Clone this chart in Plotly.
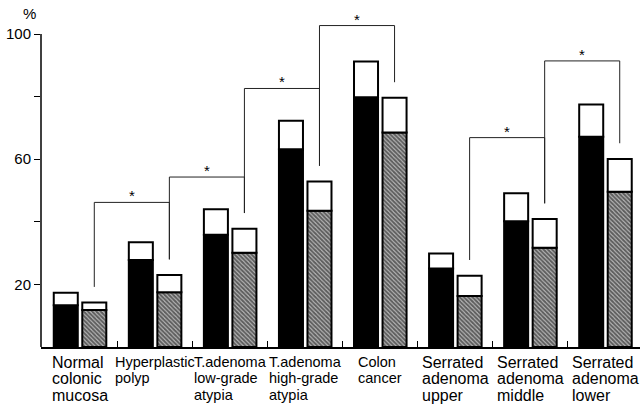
import plotly.graph_objects as go

# ---- data ----
label_lines = [
    ["Normal", "colonic", "mucosa"],
    ["Hyperplastic", "polyp"],
    ["T.adenoma", "low-grade", "atypia"],
    ["T.adenoma", "high-grade", "atypia"],
    ["Colon", "cancer"],
    ["Serrated", "adenoma", "upper"],
    ["Serrated", "adenoma", "middle"],
    ["Serrated", "adenoma", "lower"],
]
label_style = ["wide", "narrow", "narrow", "narrow", "narrow", "wide", "wide", "wide"]

black_inner = [13.3, 27.8, 35.9, 63.2, 79.8, 25.1, 40.2, 67.2]
black_total = [17.3, 33.5, 44.0, 72.3, 91.2, 29.9, 49.1, 77.5]
hatch_inner = [11.8, 17.5, 30.1, 43.5, 68.5, 16.3, 31.7, 49.6]
hatch_total = [14.2, 23.0, 37.8, 52.9, 79.6, 22.8, 40.9, 60.1]

# significance brackets between hatched bars: (from group, to group, bracket height)
brackets = [(0, 1, 46.2), (1, 2, 54.3), (2, 3, 82.6), (3, 4, 102.7), (5, 6, 66.9), (6, 7, 91.4)]

y_tickvals = [20, 40, 60, 80, 100]
y_ticktext = ["20", "", "60", "", "100"]

# ---- figure ----
n = len(label_lines)
xs = list(range(n))
BW = 0.32
OFF_B = -0.35
OFF_H = 0.03
LEG_GAP = 5
FONTS = {
    "wide": ("Liberation Sans", 16),
    "narrow": ("Liberation Sans Narrow, Arial Narrow, Liberation Sans", 14.5),
}

fig = go.Figure()
edge = dict(color="black", width=2)

fig.add_trace(go.Bar(x=xs, y=black_inner, width=BW, offset=OFF_B,
                     marker=dict(color="black", line=edge), hoverinfo="skip"))
fig.add_trace(go.Bar(x=xs, y=[t - b for t, b in zip(black_total, black_inner)], base=black_inner,
                     width=BW, offset=OFF_B,
                     marker=dict(color="white", line=edge), hoverinfo="skip"))
fig.add_trace(go.Bar(x=xs, y=hatch_inner, width=BW, offset=OFF_H,
                     marker=dict(color="#bdbdbd", line=edge,
                                 pattern=dict(shape="\\", fgcolor="black", bgcolor="#bdbdbd",
                                              size=3, solidity=0.65)),
                     hoverinfo="skip"))
fig.add_trace(go.Bar(x=xs, y=[t - b for t, b in zip(hatch_total, hatch_inner)], base=hatch_inner,
                     width=BW, offset=OFF_H,
                     marker=dict(color="white", line=edge), hoverinfo="skip"))

shapes = []
annotations = []
hc = OFF_H + BW / 2
for g1, g2, top in brackets:
    x1, x2 = g1 + hc, g2 + hc
    b1, b2 = hatch_total[g1] + LEG_GAP, hatch_total[g2] + LEG_GAP
    shapes.append(dict(type="path", xref="x", yref="y",
                       path=f"M {x1},{b1} L {x1},{top} L {x2},{top} L {x2},{b2}",
                       line=dict(color="#222", width=1)))
    annotations.append(dict(x=(x1 + x2) / 2, y=top, xref="x", yref="y", text="*",
                            showarrow=False, yanchor="bottom", yshift=-4,
                            font=dict(size=15, color="black", family="Liberation Sans")))

# y axis line from 0 to 100 only
shapes.append(dict(type="line", xref="paper", yref="y", x0=0, x1=0, y0=0, y1=100,
                   line=dict(color="black", width=1.5)))

for i, lines in enumerate(label_lines):
    fam, fs = FONTS[label_style[i]]
    txt = "<br>".join(f"<span style='font-size:{fs}px'>{ln}</span>" for ln in lines)
    annotations.append(dict(x=i, y=0, xref="x", yref="y", text=txt, showarrow=False,
                            xanchor="center", yanchor="top", align="left", yshift=-5,
                            font=dict(size=12.5, color="black", family=fam)))

annotations.append(dict(x=-0.52, y=106, xref="x", yref="y", text="%", showarrow=False,
                        xanchor="right", yanchor="middle", xshift=-3, yshift=2,
                        font=dict(size=15, color="black", family="Liberation Sans")))

fig.update_layout(
    width=643, height=406,
    margin=dict(l=41, r=3, t=10, b=59),
    paper_bgcolor="white", plot_bgcolor="white",
    barmode="overlay", showlegend=False,
    shapes=shapes, annotations=annotations,
    xaxis=dict(range=[-0.52, 7.46], showgrid=False, zeroline=False,
               showline=True, linecolor="black", linewidth=1.5,
               tickvals=[i + 0.5 for i in range(n - 1)], ticks="inside", ticklen=6,
               tickcolor="black", tickwidth=1, showticklabels=False, fixedrange=True),
    yaxis=dict(range=[0, 107.67], showgrid=False, zeroline=False, showline=False,
               tickvals=y_tickvals, ticktext=y_ticktext, ticks="outside", ticklen=6,
               tickcolor="black", tickwidth=1,
               tickfont=dict(size=15, color="black", family="Liberation Sans"),
               fixedrange=True),
)

fig.write_html("out.html", config={"displayModeBar": False},
               post_script="document.body.style.margin='0px';")
